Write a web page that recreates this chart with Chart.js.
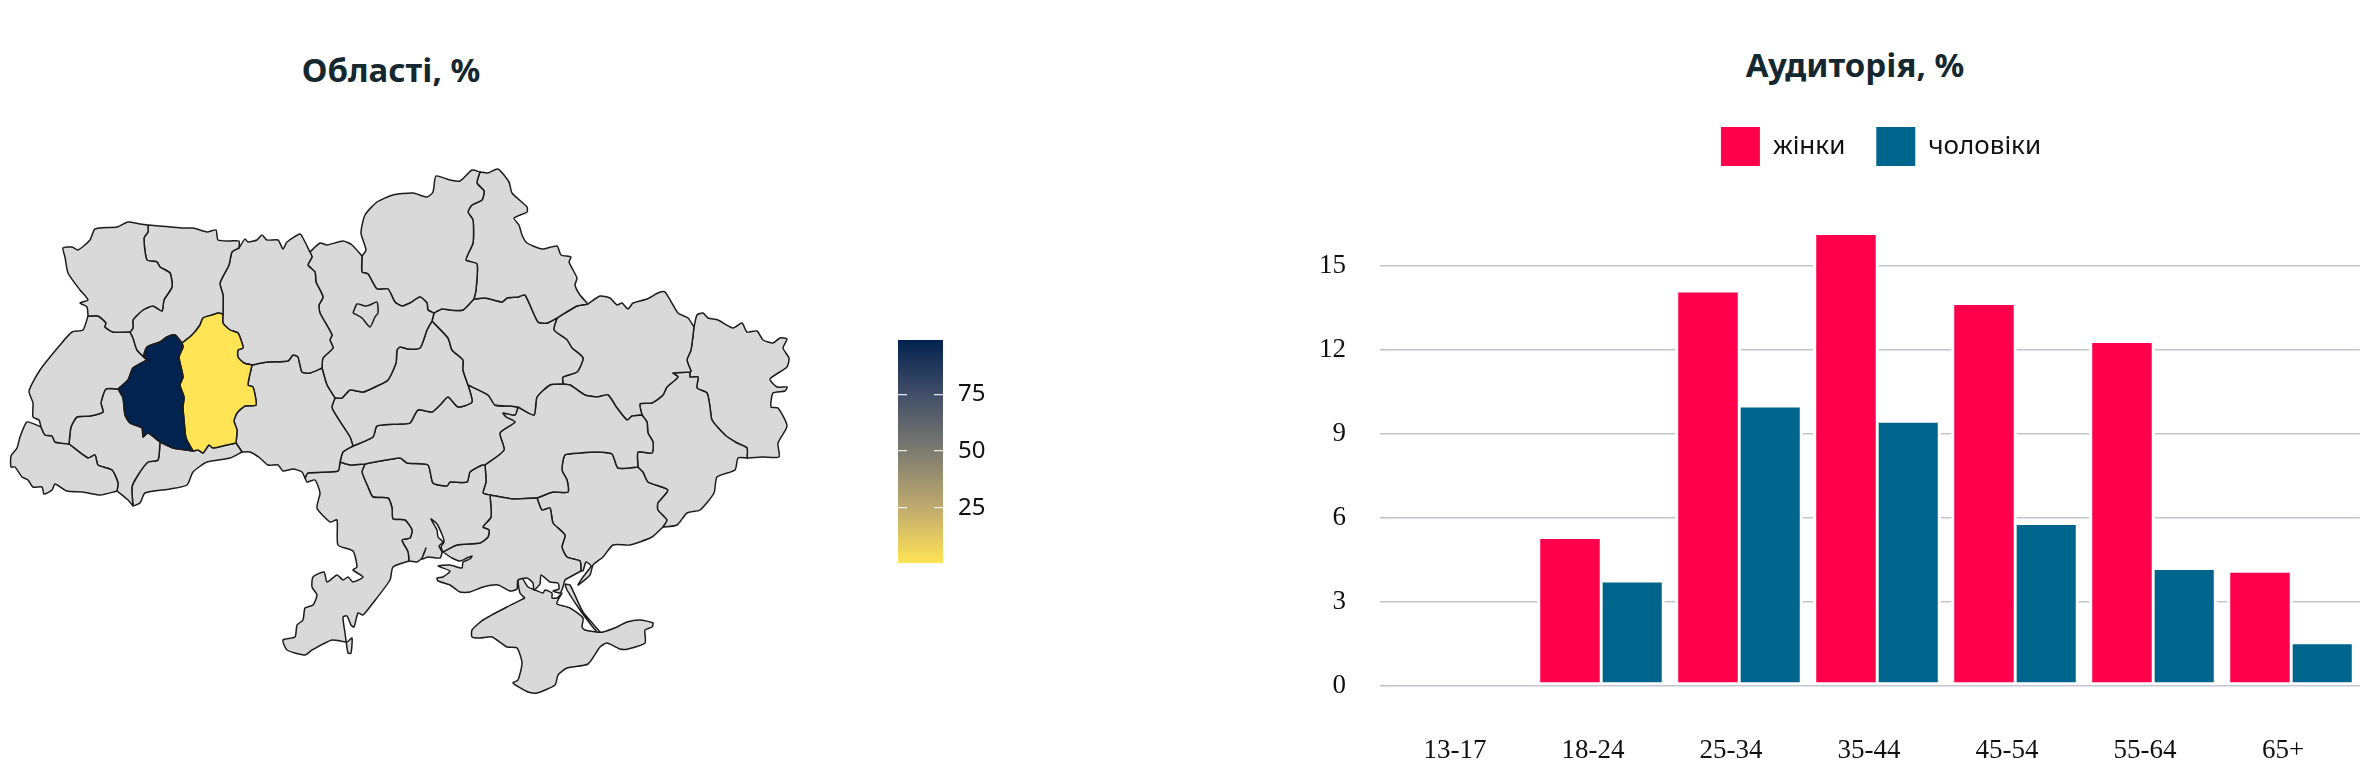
<!DOCTYPE html>
<html>
<head>
<meta charset="utf-8">
<title>Області та аудиторія</title>
<script src="https://cdn.jsdelivr.net/npm/chart.js@4"></script>
<style>
    html, body { margin: 0; padding: 0; width: 2362px; height: 772px; overflow: hidden; background: #fff; }
    canvas { position: absolute; }
    #mapChart { left: 0; top: 0; }
    #barChart { left: 898px; top: 340px; }
    #audienceChart { left: 1300px; top: 0; }
    h2 { position: absolute; margin: 0; font: bold 33px/40px "Noto Sans", sans-serif; color: #16282f; transform: translateX(-50%); white-space: nowrap; }
    #mapTitle { left: 391px; top: 50px; }
    #audienceTitle { left: 1855px; top: 45px; }
</style>
</head>
<body>
<h2 id="mapTitle">Області, %</h2>
<h2 id="audienceTitle">Аудиторія, %</h2>
<canvas id="mapChart" width="1000" height="772"></canvas>
<canvas id="barChart" width="120" height="223"></canvas>
<canvas id="audienceChart" width="1160" height="772"></canvas>
<script>
// audience chart
const ageGroups = ["13-17", "18-24", "25-34", "35-44", "45-54", "55-64", "65+"];
const women = [0, 5.35, 14.15, 16.2, 13.7, 12.35, 4.15];
const men = [0, 3.8, 10.05, 9.5, 5.85, 4.25, 1.6];
const audienceTicks = [0, 3, 6, 9, 12, 15];

// colour scale of the map
const scaleMin = 0.6;
const scaleMax = 99;
const scaleTicks = [25, 50, 75];
const scaleStops = [[0, "#ffe455"], [0.25, "#bfaa6e"], [0.5, "#7d7c70"], [0.75, "#434f69"], [1, "#02234f"]];

// only two regions have a value, everything else is "no data"
const regionValues = { ternopil: 99, khmelnytskyi: 0.6 };

// map borders, in map units, each border written once
const volynOuter = [[88,316],[87,307],[80,303],[88,300],[80,290],[68,273],[65,257],[63,248],[72,247],[78,250],[90,240],[95,229],[117,227],[128,222],[140,224],[148,225]];
const volynRivne = [[148,225],[148,232],[144,238],[147,260],[157,262],[160,267],[170,273],[172,287],[164,300],[162,311],[153,306],[143,310],[133,320],[133,328],[130,332]];
const volynLviv = [[130,332],[113,332],[105,327],[106,323],[98,316],[88,316]];
const rivneOuter = [[148,225],[183,228],[193,228],[207,232],[216,230],[218,240],[230,241],[239,241],[239,248]];
const rivneZhyt = [[239,248],[232,252],[229,265],[220,283],[223,295],[223,314]];
const rivneKhm = [[223,314],[218,313],[212,315],[203,318],[200,325],[192,335],[182,343]];
const rivneTern = [[182,343],[175,335],[167,337],[160,342],[147,347],[144,355],[147,360]];
const rivneLviv = [[147,360],[137,350],[133,338],[130,332]];
const lvivOuter = [[88,316],[83,330],[72,332],[60,345],[40,370],[29,391],[33,403],[33,417],[39,420],[41,427]];
const lvivZak = [[41,427],[45,435],[52,436],[55,442],[69,444]];
const lvivIF = [[69,444],[71,427],[77,417],[90,416],[103,412],[101,403],[106,389],[118,389]];
const lvivTern = [[118,389],[128,380],[133,368],[147,360]];
const zakOuter = [[41,427],[27,422],[20,437],[17,448],[11,456],[11,467],[15,467],[22,477],[28,480],[33,487],[42,487],[44,494],[52,490],[55,484],[67,491],[83,492],[100,495],[117,491]];
const zakIF = [[117,491],[118,483],[112,470],[98,465],[95,455],[88,458],[69,444]];
const ternIF = [[118,389],[123,398],[125,415],[130,423],[142,428],[143,437],[148,433],[160,442]];
const ifChern = [[160,442],[158,460],[148,462],[138,475],[132,487],[133,506]];
const ifOuter = [[133,506],[128,500],[117,491]];
const ternChern = [[160,442],[173,448],[193,451]];
const khmTern = [[193,451],[186,438],[184,420],[183,407],[184,397],[180,385],[183,377],[179,357],[183,347],[182,343]];
const khmChern = [[193,451],[198,450],[203,453],[209,445],[213,448],[227,445],[236,443]];
const khmVin = [[236,443],[237,430],[234,421],[237,413],[245,406],[256,405],[253,387],[248,385],[252,365]];
const khmZhyt = [[252,365],[244,363],[238,357],[238,350],[243,348],[242,343],[238,333],[230,330],[223,323],[223,314]];
const chernVin = [[236,443],[242,452]];
const chernOuter = [[242,452],[230,458],[207,462],[193,472],[187,485],[170,489],[145,493],[140,503],[133,506]];
const zhytOuter = [[239,248],[245,239],[248,242],[257,240],[262,235],[267,240],[278,240],[283,249],[287,242],[300,234],[304,240],[310,252]];
const zhytKyiv = [[310,252],[312,257],[308,265],[315,272],[316,282],[323,297],[319,305],[320,313],[332,335],[330,340],[333,348],[323,358],[322,368]];
const zhytVin = [[322,368],[310,373],[302,372],[298,357],[293,355],[288,361],[267,362],[252,365]];
const kyivVin = [[322,368],[327,385],[335,398]];
const vinCherk = [[335,398],[332,408],[350,437],[353,446]];
const vinKirov = [[353,446],[343,452],[340,462]];
const vinOdesa = [[340,462],[338,471],[308,473],[305,478]];
const vinOuter = [[242,452],[250,452],[260,458],[268,465],[278,465],[283,471],[293,469],[302,472],[305,478]];
const kyivOuter = [[310,252],[320,243],[327,245],[343,241],[352,245],[362,256]];
const chernKyiv = [[362,256],[362,272],[368,274],[377,289],[388,289],[395,302],[402,306],[410,303],[420,297],[427,303],[428,310],[434,313]];
const kyivPolt = [[434,313],[432,321]];
const kyivCherk = [[432,321],[427,330],[420,348],[408,349],[400,347],[397,350],[396,363],[388,380],[377,386],[363,392],[350,390],[342,398],[335,398]];
const chernOuter2 = [[362,256],[366,250],[361,233],[365,215],[377,202],[393,195],[413,193],[427,197],[433,192],[436,176],[450,180],[460,181],[472,170],[480,172]];
const chernSumy = [[480,172],[477,183],[484,191],[482,200],[472,205],[468,212],[473,220],[473,243],[466,260],[477,264],[476,290],[474,299]];
const chernPolt = [[474,299],[463,310],[450,310],[442,309],[434,313]];
const sumyOuter = [[480,172],[488,173],[498,169],[509,182],[512,193],[527,207],[527,212],[514,218],[519,225],[522,235],[527,243],[542,249],[557,246],[561,255],[571,257],[569,262],[577,278],[575,285],[580,295],[588,304]];
const sumyKhar = [[588,304],[577,306],[557,318]];
const sumyPolt = [[557,318],[547,323],[538,322],[525,295],[518,297],[507,298],[502,302],[485,298],[474,299]];
const cherkPolt = [[432,321],[448,338],[452,350],[463,360],[463,370],[468,385]];
const poltKirov = [[468,385],[488,395],[495,405],[510,406],[518,407]];
const poltDnipro = [[518,407],[534,415],[537,397],[550,385],[563,384]];
const poltKhar = [[563,384],[563,377],[577,372],[583,358],[572,348],[567,340],[554,330],[557,318]];
const cherkKirov = [[353,446],[373,437],[377,426],[400,424],[410,423],[418,410],[432,412],[440,405],[448,397],[458,407],[472,402],[468,385]];
const kirovDnipro = [[518,407],[515,415],[503,413],[506,417],[515,422],[500,433],[504,450],[485,465]];
const kirovMyk = [[485,465],[482,465],[470,472],[467,482],[450,482],[447,486],[433,483],[428,465],[407,463],[400,458],[365,464]];
const kirovOdesa = [[365,464],[350,465],[340,462]];
const odesaOuter = [[305,478],[307,482],[315,480],[320,493],[317,508],[330,522],[337,520],[338,545],[353,551],[357,567],[353,570],[363,577],[353,582],[348,577],[343,580],[337,575],[327,582],[324,572],[313,577],[312,587],[317,595],[313,605],[305,608],[303,620],[297,625],[295,637],[283,640],[287,650],[305,655],[312,650],[332,640],[347,642],[352,638],[351,653],[348,653],[345,633],[343,617],[347,616],[351,625],[354,627],[358,613],[363,615],[373,603],[390,580],[393,567],[409,561]];
const odesaMyk = [[409,561],[408,552],[402,540],[410,538],[412,530],[405,520],[393,519],[392,508],[388,498],[373,497],[368,487],[362,472],[365,464]];
const mykDnipro = [[485,465],[486,482],[483,493],[490,495]];
const mykKherson = [[490,495],[491,517],[483,527],[489,530],[488,537],[480,543],[457,545],[443,552]];
const mykCoast = [[443,552],[441,547],[444,542],[443,537],[437,524],[431,519],[437,530],[438,537],[443,542],[439,546],[442,552],[440,558],[428,557],[422,559],[426,548],[422,558],[417,562],[409,561]];
const khersonDnipro = [[490,495],[513,499],[537,498]];
const khersonZap = [[537,498],[542,510],[550,508],[553,523],[565,535],[562,547],[567,557],[580,561],[581,571]];
const khersonCoast = [[581,571],[570,577],[565,580],[563,587],[560,593],[553,591],[559,589],[558,583],[550,582],[541,575],[540,584],[534,590],[533,583],[527,578],[518,580],[517,589],[510,591],[498,585],[483,587],[470,592],[460,592],[450,585],[438,581],[437,578],[443,577],[450,571],[438,566],[450,565],[462,568],[463,562],[470,559],[472,556],[467,558],[460,561],[452,558],[443,552]];
const dniproKhar = [[563,384],[570,385],[585,395],[597,397],[608,395],[617,408],[627,420],[632,416],[642,415]];
const dniproDon = [[642,415],[647,422],[648,433],[653,442],[652,453],[638,452],[638,467]];
const dniproZap = [[638,467],[618,468],[612,454],[597,452],[580,453],[565,455],[562,470],[567,480],[568,492],[553,492],[537,498]];
const kharOuter = [[588,304],[600,296],[610,298],[617,305],[622,303],[628,309],[633,303],[647,299],[658,293],[665,292],[678,313],[688,318],[694,327]];
const kharLuh = [[694,327],[691,350],[687,360],[691,371],[690,372]];
const kharDon = [[690,372],[673,373],[678,377],[667,387],[663,395],[652,403],[640,404],[642,415]];
const luhOuter = [[694,327],[697,315],[703,313],[708,318],[718,320],[733,328],[742,323],[747,332],[757,331],[763,340],[773,343],[780,338],[787,339],[783,348],[789,358],[787,367],[770,379],[777,387],[787,387],[785,391],[773,393],[771,407],[778,408],[787,426],[778,443],[779,457],[763,457],[747,458]];
const donLuh = [[690,372],[690,377],[698,377],[697,388],[707,393],[710,407],[712,420],[725,435],[737,443],[747,448],[747,458]];
const donOuter = [[747,458],[738,458],[735,470],[717,477],[714,493],[700,510],[687,513],[677,525],[663,527]];
const donZap = [[663,527],[667,520],[658,510],[658,503],[668,490],[648,482],[643,472],[638,467]];
const zapCoast = [[663,527],[652,537],[630,545],[613,545],[603,557],[593,565],[590,575],[578,585],[583,577],[591,566],[586,562],[583,571],[581,571]];
const crimea = [[525,598],[520,593],[518,580],[522,578],[528,587],[535,590],[543,593],[545,590],[552,593],[552,598],[557,598],[562,593],[558,600],[557,604],[570,608],[583,618],[582,627],[585,630],[597,632],[603,632],[617,627],[627,622],[640,620],[653,623],[652,627],[645,630],[645,643],[628,649],[620,649],[607,643],[600,647],[588,664],[567,668],[558,675],[555,685],[537,693],[528,692],[513,683],[518,680],[522,663],[517,648],[507,647],[492,637],[480,638],[472,637],[472,630],[483,620],[507,607]];
const arabat = [[565,584],[570,585],[583,612],[600,632],[597,632],[580,610],[567,590]];
const kyivCity = [[353,313],[357,304],[365,306],[370,305],[377,302],[378,313],[375,317],[370,327],[362,318]];

// regions, first one in the list is drawn on top
const regionBorders = {
    kyivCity: [kyivCity],
    ternopil: [rivneTern, lvivTern, ternIF, ternChern, khmTern],
    khmelnytskyi: [rivneKhm, khmTern, khmChern, khmVin, khmZhyt],
    volyn: [volynOuter, volynRivne, volynLviv],
    rivne: [rivneOuter, rivneZhyt, rivneKhm, rivneTern, rivneLviv, volynRivne],
    lviv: [volynLviv, lvivOuter, lvivZak, lvivIF, lvivTern, rivneLviv],
    zakarpattia: [zakOuter, zakIF, lvivZak],
    ivanoFrankivsk: [lvivIF, ternIF, ifChern, ifOuter, zakIF],
    chernivtsi: [ifChern, ternChern, khmChern, chernVin, chernOuter],
    zhytomyr: [zhytOuter, zhytKyiv, zhytVin, khmZhyt, rivneZhyt],
    vinnytsia: [chernVin, vinOuter, vinOdesa, vinKirov, vinCherk, kyivVin, zhytVin, khmVin],
    kyiv: [kyivOuter, chernKyiv, kyivPolt, kyivCherk, kyivVin, zhytKyiv],
    chernihiv: [chernOuter2, chernSumy, chernPolt, chernKyiv],
    sumy: [sumyOuter, sumyKhar, sumyPolt, chernSumy],
    poltava: [chernPolt, kyivPolt, cherkPolt, poltKirov, poltDnipro, poltKhar, sumyPolt],
    cherkasy: [kyivCherk, vinCherk, cherkKirov, cherkPolt],
    kirovohrad: [cherkKirov, poltKirov, kirovDnipro, kirovMyk, kirovOdesa, vinKirov],
    odesa: [kirovOdesa, vinOdesa, odesaOuter, odesaMyk],
    mykolaiv: [odesaMyk, kirovMyk, mykDnipro, mykKherson, mykCoast],
    kherson: [mykKherson, khersonDnipro, khersonZap, khersonCoast],
    dnipro: [kirovDnipro, poltDnipro, dniproKhar, dniproDon, dniproZap, khersonDnipro, mykDnipro],
    kharkiv: [sumyKhar, kharOuter, kharLuh, kharDon, dniproKhar, poltKhar],
    donetsk: [kharDon, donLuh, donOuter, donZap, dniproDon],
    luhansk: [luhOuter, donLuh, kharLuh],
    zaporizhzhia: [dniproZap, donZap, zapCoast, khersonZap],
    arabat: [arabat],
    crimea: [crimea]
};

function gap(a, b) {
    return Math.hypot(a[0] - b[0], a[1] - b[1]);
}

// joins border pieces into one closed ring, turning a piece round where needed
function buildRing(pieces) {
    let ring = pieces[0].slice();
    if (pieces.length > 1) {
        const next = pieces[1];
        const endGap = Math.min(gap(ring[ring.length - 1], next[0]), gap(ring[ring.length - 1], next[next.length - 1]));
        const startGap = Math.min(gap(ring[0], next[0]), gap(ring[0], next[next.length - 1]));
        if (startGap < endGap) ring.reverse();
    }
    pieces.slice(1).forEach(piece => {
        const last = ring[ring.length - 1];
        const turned = gap(last, piece[piece.length - 1]) < gap(last, piece[0]);
        ring = ring.concat(turned ? piece.slice().reverse() : piece);
    });
    ring.push(ring[0]);
    return ring.map(p => ({ x: p[0], y: p[1] }));
}

function regionColor(name) {
    const value = regionValues[name];
    if (value === undefined) return "#d9d9d9";
    return value > 50 ? scaleStops[4][1] : scaleStops[0][1];
}

Chart.defaults.animation = false;

new Chart(document.getElementById("mapChart"), {
    type: "scatter",
    data: {
        datasets: Object.keys(regionBorders).map(name => ({
            label: name,
            data: buildRing(regionBorders[name]),
            showLine: true,
            fill: "shape",
            tension: 0.2,
            backgroundColor: regionColor(name),
            borderColor: "#1c1c1c",
            borderWidth: 1.5,
            borderJoinStyle: "round",
            pointRadius: 0
        }))
    },
    options: {
        responsive: false,
        layout: { padding: 0 },
        plugins: { legend: { display: false }, tooltip: { enabled: false } },
        scales: {
            x: { type: "linear", display: false, min: 0, max: 1000 },
            y: { type: "linear", display: false, min: 0, max: 772, reverse: true }
        }
    }
});

new Chart(document.getElementById("barChart"), {
    type: "bar",
    data: {
        labels: [""],
        datasets: [{
            data: [[scaleMin, scaleMax]],
            barPercentage: 1,
            categoryPercentage: 1,
            backgroundColor: ctx => {
                const area = ctx.chart.chartArea;
                if (!area) return scaleStops[0][1];
                const g = ctx.chart.ctx.createLinearGradient(0, area.bottom, 0, area.top);
                scaleStops.forEach(s => g.addColorStop(s[0], s[1]));
                return g;
            }
        }]
    },
    options: {
        responsive: false,
        layout: { padding: 0 },
        plugins: { legend: { display: false }, tooltip: { enabled: false } },
        scales: {
            x: { display: false },
            y: {
                position: "right",
                min: scaleMin,
                max: scaleMax,
                afterBuildTicks: scale => { scale.ticks = scaleTicks.map(v => ({ value: v })); },
                afterFit: scale => { scale.width = 75; scale.paddingTop = 0; scale.paddingBottom = 0; },
                grid: { color: "rgba(255,255,255,0.85)", lineWidth: 1.2, z: 1, drawTicks: false },
                border: { display: false, dash: [9, 27] },
                ticks: { color: "#111", padding: 15, font: { family: "Noto Sans", size: 24 } }
            }
        }
    }
});

// the legend sits right of the plot centre in the reference
const legendShift = {
    id: "legendShift",
    afterLayout(chart) {
        chart.legend.left += 51;
        chart.legend.right += 51;
    }
};

new Chart(document.getElementById("audienceChart"), {
    type: "bar",
    data: {
        labels: ageGroups,
        datasets: [
            { label: "жінки", data: women, backgroundColor: "#ff004c" },
            { label: "чоловіки", data: men, backgroundColor: "#00658c" }
        ].map(d => ({ ...d, borderColor: "#fff", borderWidth: 3, borderSkipped: false, barPercentage: 1.056, categoryPercentage: 0.899 }))
    },
    plugins: [legendShift],
    options: {
        responsive: false,
        layout: { padding: { top: 96, right: 100, left: 0, bottom: 0 } },
        plugins: {
            tooltip: { enabled: false },
            legend: {
                position: "top",
                labels: {
                    boxWidth: 39,
                    boxHeight: 39,
                    padding: 31,
                    color: "#111",
                    font: { family: "Noto Sans", size: 26 },
                    generateLabels: chart => chart.data.datasets.map((d, i) => ({
                        text: d.label, fillStyle: d.backgroundColor, strokeStyle: d.backgroundColor, lineWidth: 0, datasetIndex: i, fontColor: "#111"
                    }))
                }
            }
        },
        scales: {
            x: {
                afterFit: scale => { scale.height = 86; },
                grid: { display: false },
                border: { display: false },
                ticks: { color: "#111", padding: 41, labelOffset: -8, maxRotation: 0, autoSkip: false, font: { family: "Liberation Serif", size: 27 } }
            },
            y: {
                min: 0,
                max: 18.2,
                afterBuildTicks: scale => { scale.ticks = audienceTicks.map(v => ({ value: v })); },
                afterFit: scale => { scale.width = 94; },
                grid: { color: "#c4c4d2", tickColor: "#c4c4d2", lineWidth: 1.6, tickLength: 14 },
                border: { display: false },
                ticks: { color: "#111", padding: 34, font: { family: "Liberation Serif", size: 27 } }
            }
        }
    }
});
</script>
</body>
</html>
